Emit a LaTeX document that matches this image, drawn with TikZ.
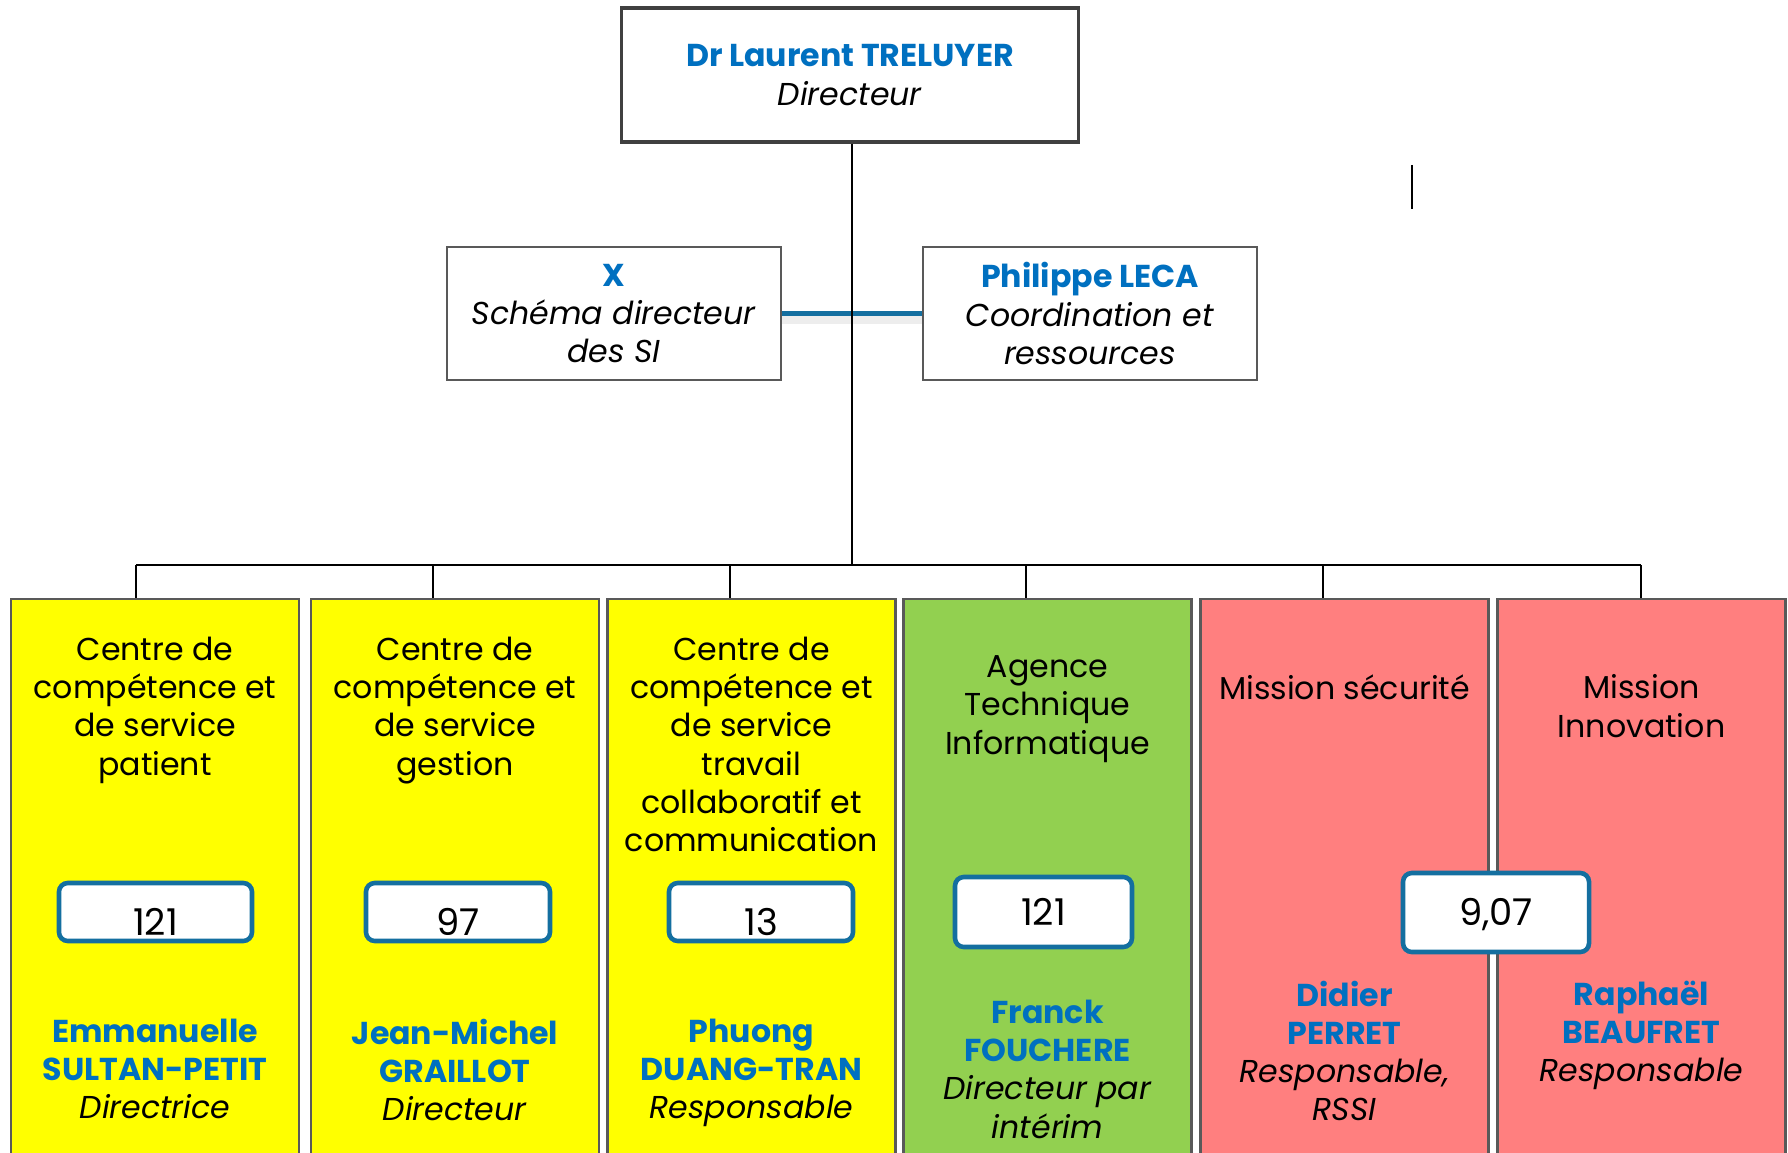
\documentclass[tikz,border=0pt]{standalone}
\usepackage{fontspec}
\setmainfont{Poppins}
\usetikzlibrary{positioning}
\definecolor{nameblue}{HTML}{0070C0}
\definecolor{linkblue}{HTML}{146FA0}
\definecolor{cyellow}{HTML}{FFFF00}
\definecolor{cgreen}{HTML}{92D050}
\definecolor{cred}{HTML}{FF7F7F}
\definecolor{edgegray}{HTML}{595959}
\newcommand{\pname}[1]{\textcolor{nameblue}{\bfseries #1}}
\newcommand{\prole}[1]{\textit{#1}}
\tikzset{
  title txt/.style={
    font=\fontsize{9}{10.9}\selectfont,
    align=center,
    inner sep=0pt,
    anchor=north
  },
  head box/.style={
    draw=black!75,
    line width=0.9pt,
    fill=white,
    minimum width=4.57cm,
    minimum height=1.34cm,
    font=\fontsize{9}{10.9}\selectfont,
    align=center
  },
  side box/.style={
    draw=edgegray,
    line width=0.6pt,
    fill=white,
    minimum width=3.34cm,
    minimum height=1.33cm,
    font=\fontsize{9}{10.9}\selectfont,
    align=center
  },
  column/.style={
    draw=edgegray,
    line width=0.6pt,
    minimum width=2.88cm,
    minimum height=5.8cm,
    anchor=north
  },
  count box/.style={
    draw=linkblue,
    line width=1.3pt,
    fill=white,
    rounded corners=2.5pt,
    minimum height=0.58cm,
    inner sep=0pt,
    font=\fontsize{10.5}{12}\selectfont,
    text height=0.26cm,
    text depth=0pt
  },
  low count/.style={
    text height=0.46cm
  },
  tree line/.style={
    draw=black,
    line width=0.6pt
  },
  link line/.style={
    draw=linkblue,
    line width=1.3pt
  }
}

\begin{document}
\begin{tikzpicture}
    \useasboundingbox (0,0) rectangle (17.88,-11.52);

    % Direction
    \node[head box] (dir) at (8.50,-0.75) {\pname{Dr Laurent TRELUYER}\\\prole{Directeur}};

    % Chargés de mission
    \node[side box] (sdsi) at (6.14,-3.135) {\pname{X}\\\prole{Schéma directeur}\\\prole{des SI}};
    \node[side box] (coord) at (10.90,-3.135) {\pname{Philippe LECA}\\\prole{Coordination et}\\\prole{ressources}};

    % liaison bleue (avec ombre)
    \draw[black, opacity=0.07, line width=3pt] ([yshift=-1.4pt]sdsi.east) -- ([yshift=-1.4pt]coord.west);
    \draw[link line] (sdsi.east) -- (coord.west);

    % arbre
    \coordinate (bar) at (8.52,-5.65);
    \foreach \i/\x in {1/1.36, 2/4.33, 3/7.30, 4/10.26, 5/13.23, 6/16.41}
      \coordinate (d\i) at (\x,-5.65);
    \draw[tree line] (dir.south -| bar) -- (bar);
    \draw[tree line] (d1) -- (d6);

    % trait isolé
    \draw[black, line width=0.8pt] (14.12,-1.65) -- (14.12,-2.09);

    % Pôles
    \node[column, fill=cyellow] (c1) at (1.55,-5.98) {};
    \node[column, fill=cyellow] (c2) at (4.55,-5.98) {};
    \node[column, fill=cyellow] (c3) at (7.515,-5.98) {};
    \node[column, fill=cgreen] (c4) at (10.475,-5.98) {};
    \node[column, fill=cred] (c5) at (13.445,-5.98) {};
    \node[column, fill=cred] (c6) at (16.415,-5.98) {};
    \foreach \i in {1,...,6}
      \draw[tree line] (d\i) -- (d\i |- c\i.north);

    % intitulés
    \node[title txt] (t1) at (1.55,-6.36) {Centre de\\compétence et\\de service\\patient};
    \node[title txt] (t2) at (4.55,-6.36) {Centre de\\compétence et\\de service\\gestion};
    \node[title txt] (t3) at (7.515,-6.36) {Centre de\\compétence et\\de service\\travail\\collaboratif et\\communication};
    \node[title txt] (t4) at (10.475,-6.55) {Agence\\Technique\\Informatique};
    \node[title txt] (t5) at (13.445,-6.74) {Mission sécurité};
    \node[title txt] (t6) at (16.415,-6.74) {Mission\\Innovation};

    % effectifs
    \node[count box, low count, minimum width=1.93cm] (n1) at (1.555,-9.12) {121};
    \node[count box, low count, minimum width=1.84cm] (n2) at (4.58,-9.12) {97};
    \node[count box, low count, minimum width=1.84cm] (n3) at (7.61,-9.12) {13};
    \node[count box, minimum width=1.77cm, minimum height=0.70cm] (n4) at (10.435,-9.12) {121};
    \node[count box, minimum width=1.86cm, minimum height=0.79cm] (n5) at (14.96,-9.125) {9,07};

    % responsables
    \node[title txt] (p1) at (1.55,-10.18) {\pname{Emmanuelle}\\\pname{SULTAN-PETIT}\\\prole{Directrice}};
    \node[title txt] (p2) at (4.55,-10.18) {\pname{Jean-Michel}\\\pname{GRAILLOT}\\\prole{Directeur}};
    \node[title txt] (p3) at (7.515,-10.18) {\pname{Phuong}\\\pname{DUANG-TRAN}\\\prole{Responsable}};
    \node[title txt] (p4) at (10.475,-9.99) {\pname{Franck}\\\pname{FOUCHERE}\\\prole{Directeur par}\\\prole{intérim}};
    \node[title txt] (p5) at (13.445,-9.80) {\pname{Didier}\\\pname{PERRET}\\\prole{Responsable,}\\\prole{RSSI}};
    \node[title txt] (p6) at (16.415,-9.80) {\pname{Raphaël}\\\pname{BEAUFRET}\\\prole{Responsable}};

\end{tikzpicture}
\end{document}
